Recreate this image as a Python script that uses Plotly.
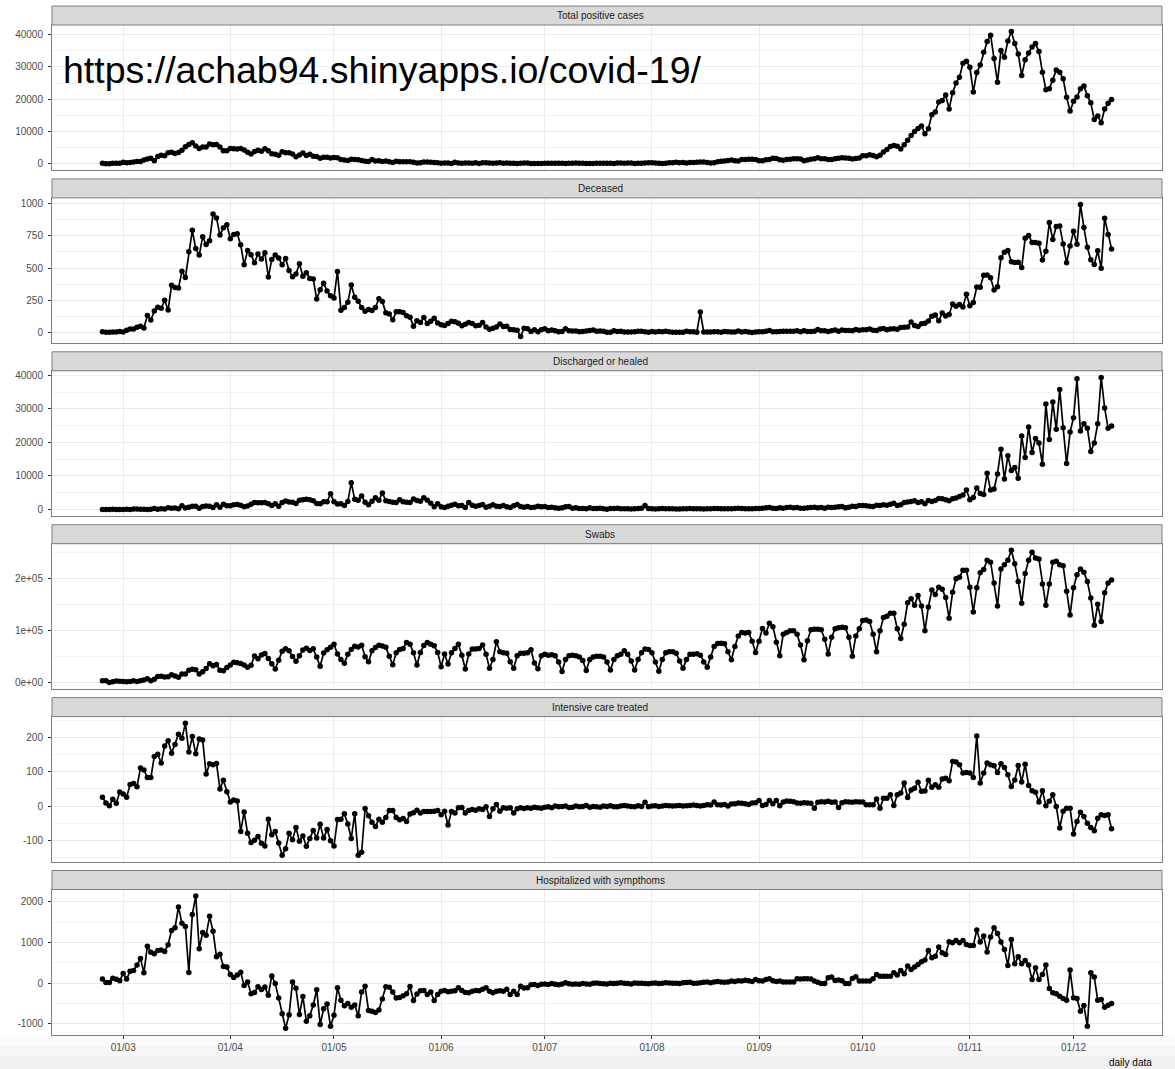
import pandas as pd
import plotly.graph_objects as go

# ---------------------------------------------------------------------------
# Italian COVID-19 daily figures, 24/02/2020 - 12/12/2020 (one value per day)
# ---------------------------------------------------------------------------
FIRST_DAY = "2020-02-24"
LAST_DAY = "2020-12-12"

new_positive = (
    [221, 93, 78, 250, 238, 240]
    + [561, 342, 466, 587, 769, 778, 1247, 1492, 1797, 977, 2313, 2651, 2547, 3497, 3590, 3233,
       3526, 4207, 5322, 5986, 6557, 5560, 4789, 5249, 5210, 6153, 5959, 5974, 5217, 4050, 4053]
    + [4782, 4668, 4585, 4805, 4316, 3599, 3039, 3836, 4204, 3951, 4694, 4092, 3153, 2972, 2667,
       3786, 3493, 3491, 3047, 2256, 2729, 3370, 2646, 3021, 2357, 2324, 1739, 2091, 2086, 1872]
    + [1965, 1900, 1389, 1221, 1075, 1444, 1401, 1327, 1083, 802, 744, 1402, 888, 992, 789, 875,
       675, 451, 813, 665, 642, 652, 669, 531, 300, 397, 584, 593, 516, 416, 355]
    + [178, 318, 321, 177, 518, 270, 197, 280, 283, 202, 379, 163, 346, 338, 301, 210, 329, 333,
       251, 262, 224, 218, 122, 190, 296, 259, 175, 174, 126, 142]
    + [187, 201, 223, 235, 192, 208, 138, 193, 229, 276, 188, 234, 169, 114, 162, 230, 233, 249,
       219, 190, 129, 282, 306, 252, 275, 255, 170, 181, 212, 289, 386]
    + [379, 295, 239, 159, 190, 384, 402, 552, 347, 463, 259, 412, 481, 523, 574, 629, 479, 320,
       403, 642, 845, 947, 1071, 1210, 953, 878, 1367, 1411, 1460, 1444, 1365]
    + [996, 978, 1326, 1397, 1733, 1695, 1297, 1108, 1370, 1434, 1597, 1616, 1501, 1008, 1229,
       1452, 1585, 1907, 1638, 1587, 1350, 1392, 1640, 1786, 1912, 1869, 1766, 1494, 1648, 1851]
    + [2548, 2499, 2844, 2578, 2257, 2677, 3678, 4458, 5372, 5724, 5456, 4619, 5901, 7332, 8804,
       10010, 10925, 11705, 9338, 10874, 15199, 16079, 19143, 19644, 21273, 17012, 21994, 24991,
       26831, 31084, 31758]
    + [29907, 22253, 28244, 30550, 34505, 37809, 39811, 32616, 25271, 35098, 32961, 37978, 40902,
       37255, 33979, 27354, 32191, 34283, 36176, 37242, 34767, 28337, 22930, 23232, 25853, 29003,
       28352, 26323, 20648, 16377]
    + [19350, 20709, 23225, 24099, 21052, 18887, 13720, 14842, 12756, 16999, 18727, 19903]
)

deceased = (
    [7, 3, 2, 5, 4, 8]
    + [5, 18, 27, 28, 41, 49, 36, 133, 97, 168, 196, 189, 250, 175, 368, 349, 345, 475, 427, 627,
       793, 651, 601, 743, 683, 712, 919, 889, 756, 812, 837]
    + [727, 760, 766, 681, 525, 636, 604, 542, 610, 570, 619, 431, 566, 602, 578, 525, 575, 482,
       433, 454, 534, 437, 464, 420, 415, 260, 333, 382, 323, 285]
    + [269, 474, 174, 195, 236, 369, 274, 243, 194, 165, 179, 172, 195, 262, 242, 153, 145, 99,
       162, 161, 156, 130, 119, 50, 92, 78, 117, 70, 87, 111, 75]
    + [60, 55, 71, 88, 85, 72, 53, 65, 79, 71, 53, 56, 78, 44, 26, 34, 43, 66, 47, 49, 24, 23, 18,
       -31, 34, 30, 8, 22, 6, 23]
    + [30, 15, 21, 15, 7, 8, 30, 15, 12, 12, 7, 9, 13, 17, 20, 11, 13, 11, 3, 3, 15, 9, 10, 5, 5,
       5, 6, 11, 11, 6, 3]
    + [9, 5, 8, 7, 10, 6, 3, 3, 3, 2, 10, 6, 6, 3, 159, 4, 4, 4, 7, 6, 3, 9, 7, 4, 4, 13, 5, 9, 5,
       1, 4]
    + [6, 6, 10, 16, 6, 7, 8, 10, 10, 10, 10, 14, 7, 14, 9, 9, 10, 24, 14, 15, 9, 14, 20, 10, 20,
       17, 16, 14, 24, 19]
    + [23, 22, 27, 18, 16, 28, 31, 22, 28, 29, 26, 39, 41, 43, 83, 55, 47, 69, 73, 89, 127, 136,
       91, 151, 128, 141, 221, 205, 217, 199, 297]
    + [208, 233, 353, 352, 445, 446, 425, 331, 356, 580, 623, 636, 550, 544, 546, 504, 731, 753,
       699, 699, 692, 562, 630, 853, 722, 822, 827, 686, 541, 672]
    + [785, 684, 993, 814, 662, 564, 528, 634, 499, 887, 761, 649]
)

discharged = (
    [1, 0, 2, 42, 1, 4]
    + [33, 66, 11, 116, 138, 109, 66, 33, 102, 280, 41, 213, 181, 527, 369, 414, 192, 1084, 415,
       689, 943, 952, 408, 894, 1036, 999, 589, 1434, 646, 1590, 1109]
    + [1118, 1431, 1480, 1238, 819, 1022, 1555, 2099, 1979, 1985, 2079, 1677, 1224, 1695, 962,
       2072, 2563, 2200, 2128, 1822, 2723, 2943, 3033, 2922, 2622, 1808, 1696, 2317, 2311, 4693]
    + [2304, 1665, 1740, 1225, 2352, 8014, 3031, 2747, 4008, 2155, 1401, 2452, 3502, 2747, 4917,
       2605, 2366, 2150, 2075, 2881, 2278, 2160, 2120, 3141, 2677, 2443, 3503, 2789, 1874, 848, 1737]
    + [800, 600, 1000, 1300, 1600, 1100, 1200, 600, 2100, 1300, 1000, 1200, 1500, 700, 1000, 1400,
       1000, 900, 1200, 800, 600, 1100, 1500, 900, 700, 900, 600, 700, 1000, 800]
    + [900, 600, 700, 500, 400, 500, 800, 900, 400, 500, 300, 300, 200, 500, 300, 300, 400, 200,
       100, 300, 300, 400, 200, 200, 200, 150, 250, 300, 400, 1200, 300]
    + [200, 150, 200, 300, 250, 250, 200, 150, 150, 200, 250, 300, 200, 250, 200, 150, 200, 250,
       300, 300, 200, 250, 250, 200, 300, 350, 300, 250, 200, 200, 300]
    + [300, 400, 500, 600, 400, 300, 500, 400, 600, 700, 500, 600, 400, 400, 500, 600, 700, 500,
       600, 400, 700, 600, 700, 800, 900, 500, 700, 1000, 900, 1200]
    + [1200, 1100, 1000, 900, 1300, 1200, 1400, 1300, 1600, 1900, 1200, 1400, 2100, 2200, 2400,
       2600, 2100, 2300, 1700, 2700, 2400, 2700, 3300, 3200, 2900, 2600, 3200, 3400, 3900, 4300, 5800]
    + [2900, 3600, 6400, 4800, 4500, 10800, 5800, 6100, 10600, 18000, 9100, 16000, 11600, 12500,
       9300, 21900, 15500, 24600, 17000, 21200, 19800, 13500, 31500, 20900, 32100, 23900, 35800,
       24400, 13700, 23100]
    + [27400, 39000, 23400, 25600, 24200, 17300, 19800, 25600, 39400, 30300, 24200, 24900]
)

swabs = (
    [4324, 4299, 964, 2427, 3681, 2966]
    + [2466, 2218, 2511, 3981, 2525, 3997, 5703, 7875, 3889, 6935, 12393, 12857, 11477, 11682,
       15729, 13063, 10695, 16884, 17236, 24109, 26336, 25180, 17066, 21496, 27481, 36615, 33019,
       35447, 24504, 23329, 29609]
    + [34455, 39809, 38617, 37375, 34237, 30271, 33713, 51680, 46244, 53495, 56609, 46720, 36717,
       26779, 43715, 60999, 65705, 61725, 50708, 41483, 52126, 63101, 66658, 62447, 65387, 49916,
       32003, 57272, 63827, 68456]
    + [74208, 55412, 44935, 37631, 55263, 64263, 70359, 69171, 72410, 50311, 40800, 61539, 67957,
       72332, 70952, 68633, 51116, 35000, 58000, 64000, 66000, 77700, 74500, 58000, 34400, 58600,
       72000, 77700, 74500, 71300, 58600]
    + [31200, 55400, 36300, 58000, 66200, 74500, 53000, 26800, 55400, 65000, 65000, 66000, 72600,
       55000, 28000, 45000, 79000, 60000, 58000, 57000, 40800, 28000, 52000, 57000, 57000, 58000,
       63700, 38000, 27000, 52000]
    + [55000, 53000, 54000, 52000, 40000, 21700, 45000, 52000, 53000, 52000, 50000, 43000, 23600,
       45000, 50000, 51000, 51000, 50000, 40000, 24800, 45000, 52000, 55000, 61800, 55000, 42000,
       24800, 45000, 58000, 65000, 64000]
    + [58000, 40000, 22300, 45000, 58000, 60000, 60000, 57000, 42000, 28000, 45000, 55000, 55000,
       56000, 53000, 40000, 30000, 50000, 70000, 75800, 76000, 75000, 60000, 44600, 70000, 90000,
       96800, 96000, 97000, 80000, 58600]
    + [80000, 104500, 96000, 114700, 108000, 78000, 52200, 93600, 97000, 100000, 100000, 93600,
       72600, 44600, 81000, 102000, 103000, 103000, 102000, 84000, 55400, 87900, 104000, 106000,
       107000, 106000, 87900, 51000, 90000, 104000]
    + [120000, 121000, 118000, 93600, 59900, 100000, 125500, 128000, 133800, 133800, 104000, 85400,
       112700, 154000, 161800, 149000, 168000, 147800, 100000, 146000, 178400, 170000, 184000,
       180000, 164000, 124000, 174000, 200000, 203000, 216600, 216600]
    + [184000, 136300, 183000, 211500, 218000, 235700, 232000, 192000, 147800, 219000, 227000,
       235700, 254800, 229000, 195000, 152900, 210000, 235700, 251000, 240000, 238000, 190000,
       149000, 190000, 232000, 233800, 227000, 225000, 176000, 130600]
    + [183000, 208000, 219000, 212600, 195000, 163000, 110800, 151000, 117800, 173000, 192000, 197500]
)

intensive_care = (
    [26, 9, 1, 20, 8, 41]
    + [35, 26, 63, 66, 56, 111, 105, 83, 83, 144, 151, 125, 175, 190, 154, 179, 209, 197, 241, 157,
       202, 152, 195, 192, 93, 123, 120, 124, 50, 75, 42]
    + [12, 18, 15, -74, -17, -79, -106, -99, -88, -108, -116, -38, -83, -74, -107, -143, -124, -79,
       -98, -62, -102, -87, -117, -94, -71, -93, -53, -93, -68, -101]
    + [-116, -39, -38, -22, -52, -94, -22, -143, -134, -7, -28, -47, -59, -38, -47, -33, -13, -13,
       -33, -40, -36, -45, -23, -19, -12, -20, -16, -16, -16, -15, -13]
    + [-25, -15, -55, -16, -20, -5, -4, -20, -13, -10, -12, -8, -10, -2, -30, -8, 5, -15, -5, -6,
       -5, -20, -8, -5, -7, -5, -6, -3, -5, -6]
    + [-3, -2, -5, 0, -2, -1, 0, -4, -3, 0, -2, -1, 2, -3, -1, -2, -3, 0, -1, 1, -2, -2, 0, 2, 0,
       -1, -2, 1, -1, 11, -2]
    + [0, 1, -1, 0, 2, 1, 0, 1, 2, 0, 1, 2, 3, 2, 0, 2, 4, 3, 12, 4, 3, 5, 0, 6, 7, 9, 8, 7, 5, 9,
       10]
    + [16, 2, 5, 16, 7, 16, 1, 12, 15, 14, 13, 9, 8, 10, 9, 8, -6, 11, 13, 12, 14, 11, 12, -4, 10,
       13, 12, 11, 13, 12]
    + [12, 4, 4, 4, 21, -6, 23, 23, 33, 2, 33, 38, 67, 25, 47, 52, 69, 43, 44, 75, 55, 62, 55, 79,
       81, 74, 130, 128, 120, 96, 98]
    + [96, 83, 204, 67, 96, 125, 120, 117, 98, 123, 112, 91, 57, 76, 118, 70, 122, 60, 45, 40, 12,
       45, 1, 14, 33, -1, -64, -15, -6, -6]
    + [-81, -45, -18, -30, -50, -62, -72, -35, -25, -27, -25, -66]
)

hospitalized = (
    [101, 13, 14, 120, 97, 56]
    + [238, 103, 292, 312, 444, 604, 257, 906, 759, 722, 800, 812, 776, 946, 1291, 1362, 1869,
       1469, 1394, 263, 1688, 2138, 846, 1245, 1175, 1641, 1276, 647, 710, 409, 397]
    + [211, 137, 201, 269, -61, 27, -258, -233, -86, -157, -98, -297, 176, -12, -368, -750, -1107,
       -779, 26, -127, -772, -329, -934, -803, -535, -161, -1019, -630, -513, -1061]
    + [-792, -115, -419, -553, -501, -595, -538, -802, -216, -79, -674, -693, -719, -661, -392, -89,
       -104, -216, -367, -355, -312, -262, -82, -428, -268, -188, -180, -280, -220, -426, -280]
    + [-200, -180, -210, -197, -190, -115, -180, -230, -238, -200, -180, -190, -150, -115, -200,
       -238, -200, -190, -197, -150, -279, -197, -279, -74, -120, -115, -40, -33, -60, -30]
    + [-20, -33, -10, -30, -40, -20, 10, -15, -30, -20, -25, -10, -20, -30, -5, 5, -10, -15, -20,
       -5, -10, 0, 10, -5, -10, -20, 5, 0, -5, -10, -15]
    + [0, 5, -10, 0, 10, 5, 0, -5, -10, 10, 15, 20, 0, -5, 10, 20, 25, 10, 30, 40, 30, 20, 25, 50,
       40, 60, 50, 70, 60, 40, 90]
    + [60, 50, 90, 110, 60, 40, 50, 30, 30, 30, 30, 107, 100, 107, 110, 100, 50, 20, -8, -8, 130,
       148, 66, 74, 60, -8, -8, 115, 156, 50]
    + [50, 50, 50, 107, 213, 172, 172, 172, 172, 254, 197, 312, 230, 418, 336, 394, 459, 525, 566,
       804, 623, 660, 886, 746, 705, 1017, 992, 1050, 992, 1050, 951]
    + [926, 926, 1304, 1009, 1156, 763, 1132, 1361, 1222, 1009, 828, 435, 1074, 476, 648, 476, 558,
       443, 90, 377, 90, 213, 443, -131, -238, -262, -320, -377, -418, 320]
    + [-361, -377, -689, -550, -1058, 254, 148, -418, -402, -590, -541, -500]
)

panel_titles = [
    "Total positive cases",
    "Deceased",
    "Discharged or healed",
    "Swabs",
    "Intensive care treated",
    "Hospitalized with sympthoms",
]
panel_series = [new_positive, deceased, discharged, swabs, intensive_care, hospitalized]

# y tick positions and their labels, panel by panel
y_ticks = [
    [0, 10000, 20000, 30000, 40000],
    [0, 250, 500, 750, 1000],
    [0, 10000, 20000, 30000, 40000],
    [0, 100000, 200000],
    [-100, 0, 100, 200],
    [-1000, 0, 1000, 2000],
]
y_tick_labels = [
    ["0", "10000", "20000", "30000", "40000"],
    ["0", "250", "500", "750", "1000"],
    ["0", "10000", "20000", "30000", "40000"],
    ["0e+00", "1e+05", "2e+05"],
    ["-100", "0", "100", "200"],
    ["-1000", "0", "1000", "2000"],
]

caption = "daily data"
url_label = "https://achab94.shinyapps.io/covid-19/"

dates = pd.date_range(FIRST_DAY, LAST_DAY, freq="D")
for s in panel_series:
    assert len(s) == len(dates)

# ---------------------------------------------------------------------------
# geometry (pixels on a 1175 x 1069 page)
# ---------------------------------------------------------------------------
W, H = 1175, 1069
LEFT, RIGHT = 52, 1162
STRIP_H = 19.0
PANEL_STEP = 172.9
PLOT_TOP0 = 25.0
PLOT_H = 145.3
STRIP_TEXT_X = 600  # strip labels sit a little left of the panel centre

FONT = "Liberation Sans, Arial, Helvetica, sans-serif"
GRID = "#EBEBEB"
GRID_MINOR = "#F4F4F4"
FRAME = "#7F7F7F"
TICK_TXT = "#4D4D4D"


def yfrac(px):
    return 1 - px / H


def xfrac(px):
    return (px - LEFT) / (RIGHT - LEFT)


span = dates[-1] - dates[0]
x_range = [dates[0] - 0.05 * span, dates[-1] + 0.05 * span]

fig = go.Figure()
shapes = []
annotations = []
layout_axes = {}

for i, (title, values) in enumerate(zip(panel_titles, panel_series)):
    n = i + 1
    xa = "x" if n == 1 else f"x{n}"
    ya = "y" if n == 1 else f"y{n}"
    fig.add_trace(
        go.Scatter(
            x=dates,
            y=values,
            mode="lines+markers",
            line=dict(color="black", width=1.7),
            marker=dict(color="black", size=5.5),
            xaxis=xa,
            yaxis=ya,
            showlegend=False,
            hoverinfo="x+y",
        )
    )

    top = PLOT_TOP0 + PANEL_STEP * i
    bottom = top + PLOT_H

    lo, hi = min(values), max(values)
    pad = 0.05 * (hi - lo)
    y_lo, y_hi = lo - pad, hi + pad

    majors = y_ticks[i]
    step = majors[1] - majors[0]
    minors = [majors[0] - step / 2] + [m + step / 2 for m in majors]
    minors = [m for m in minors if y_lo <= m <= y_hi]

    is_bottom = n == len(panel_titles)
    layout_axes["xaxis" if n == 1 else f"xaxis{n}"] = dict(
        domain=[0, 1],
        anchor=ya,
        type="date",
        range=x_range,
        matches=None if n == 1 else "x",
        tick0="2020-03-01",
        dtick="M1",
        tickformat="%d/%m",
        showticklabels=is_bottom,
        ticks="outside" if is_bottom else "",
        ticklen=3,
        tickcolor="#333333",
        tickfont=dict(family=FONT, size=10, color=TICK_TXT),
        showgrid=True,
        gridcolor=GRID,
        gridwidth=1,
        zeroline=False,
        showline=True,
        linecolor=FRAME,
        linewidth=1,
        mirror=True,
        automargin=False,
        fixedrange=True,
    )
    layout_axes["yaxis" if n == 1 else f"yaxis{n}"] = dict(
        domain=[yfrac(bottom), yfrac(top)],
        anchor=xa,
        range=[y_lo, y_hi],
        tickmode="array",
        tickvals=majors,
        ticktext=y_tick_labels[i],
        ticks="outside",
        ticklen=3,
        tickcolor="#333333",
        ticklabelstandoff=3,
        tickfont=dict(family=FONT, size=10, color=TICK_TXT),
        showgrid=True,
        gridcolor=GRID,
        gridwidth=1,
        minor=dict(tickvals=minors, showgrid=True, gridcolor=GRID_MINOR, gridwidth=1, ticks=""),
        zeroline=False,
        showline=True,
        linecolor=FRAME,
        linewidth=1,
        mirror=True,
        automargin=False,
        fixedrange=True,
    )

    # facet strip
    s_top = top - STRIP_H
    shapes.append(
        dict(
            type="rect", xref="paper", yref="paper",
            x0=0, x1=1, y0=yfrac(top), y1=yfrac(s_top),
            fillcolor="#D9D9D9", line=dict(color=FRAME, width=1), layer="above",
        )
    )
    annotations.append(
        dict(
            text=title, xref="paper", yref="paper",
            x=xfrac(STRIP_TEXT_X), y=yfrac(s_top + STRIP_H / 2),
            xanchor="center", yanchor="middle", showarrow=False,
            font=dict(family=FONT, size=10, color="#1A1A1A"),
        )
    )

# soft grey band along the bottom edge
band = [(1036, 1046, "#FBFBFB"), (1046, 1056, "#F6F6F6"), (1056, 1069, "#F1F1F1")]
for y0, y1, col in band:
    shapes.append(
        dict(
            type="rect", xref="paper", yref="paper",
            x0=xfrac(0), x1=xfrac(W),
            y0=yfrac(y1), y1=yfrac(y0),
            fillcolor=col, line=dict(width=0), layer="below",
        )
    )

annotations.append(
    dict(
        text=url_label, xref="paper", yref="paper",
        x=xfrac(61), y=yfrac(70),
        xanchor="left", yanchor="middle", showarrow=False,
        font=dict(family=FONT, size=37.5, color="black"),
    )
)
annotations.append(
    dict(
        text=caption, xref="paper", yref="paper",
        x=xfrac(1154), y=yfrac(1062),
        xanchor="right", yanchor="middle", showarrow=False,
        font=dict(family=FONT, size=10, color="black"),
    )
)

fig.update_layout(
    width=W,
    height=H,
    margin=dict(l=LEFT, r=W - RIGHT, t=0, b=0, pad=0),
    paper_bgcolor="white",
    plot_bgcolor="white",
    showlegend=False,
    shapes=shapes,
    annotations=annotations,
    font=dict(family=FONT),
    **layout_axes,
)

fig.write_html("out.html", config={"displayModeBar": False})
